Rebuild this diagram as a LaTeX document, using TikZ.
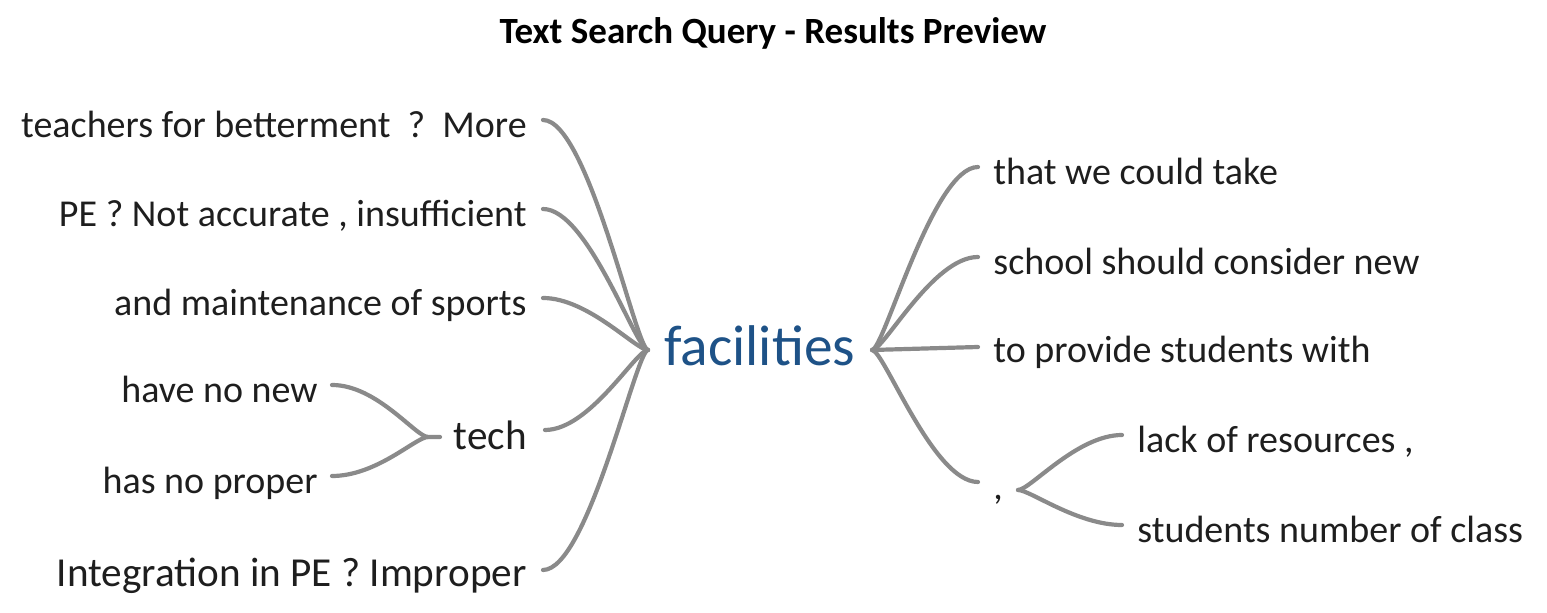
\documentclass[tikz,border=0pt]{standalone}
\usepackage{fontspec}
\setmainfont{Carlito}
\definecolor{linegray}{RGB}{138,138,138}
\definecolor{hubblue}{RGB}{30,82,135}
\definecolor{txt}{RGB}{30,30,30}
\begin{document}
\begin{tikzpicture}[x=0.5pt,y=-0.5pt,
  leaf/.style={font=\fontsize{19}{22}\selectfont, inner sep=0pt, text=txt},
  bigleaf/.style={font=\fontsize{20.6}{24}\selectfont, inner sep=0pt, text=txt},
  ttl/.style={font=\bfseries\fontsize{18.5}{22}\selectfont, inner sep=0pt, text=black},
  hub/.style={font=\fontsize{28.7}{32}\selectfont, inner sep=0pt, text=hubblue},
  conn/.style={draw=linegray, line width=2.1pt, line cap=round}]
\path[use as bounding box] (0,0) rectangle (1547,613);
\node[ttl, anchor=base] (title) at (773,44) {Text Search Query - Results Preview};
\node[hub, anchor=base west] (fac) at (664,366) {facilities};
% left leaves
\node[leaf, anchor=base east] (t1) at (527,138) {teachers for betterment\ \ ?\ \ More};
\node[leaf, anchor=base east] (t2) at (527,227) {PE ? Not accurate , insufficient};
\node[leaf, anchor=base east] (t3) at (527,316) {and maintenance of sports};
\node[bigleaf, anchor=base east] (tech) at (527,450) {tech};
\node[bigleaf, anchor=base east] (t5) at (527,587) {Integration in PE ? Improper};
\node[leaf, anchor=base east] (h1) at (318,403) {have no new};
\node[leaf, anchor=base east] (h2) at (318,494) {has no proper};
% right leaves
\node[leaf, anchor=base west] (r1) at (993,185) {that we could take};
\node[leaf, anchor=base west] (r2) at (993,275) {school should consider new};
\node[leaf, anchor=base west] (r3) at (993,363) {to provide students with};
\node[leaf, anchor=base west] (cm) at (993,500) {,};
\node[leaf, anchor=base west] (l1) at (1137,453) {lack of resources ,};
\node[leaf, anchor=base west] (l2) at (1137,543) {students number of class};
% hubs
\coordinate (hL) at (648,350);
\coordinate (hR) at (872,350);
\coordinate (hT) at (428,437);
\coordinate (hC) at (1018,490);
% connector ends
\coordinate (t1e) at (543,120);
\coordinate (t2e) at (543,209);
\coordinate (t3e) at (543,298);
\coordinate (teche) at (545,430);
\coordinate (t5e) at (543,570);
\coordinate (techw) at (440,437);
\coordinate (h1e) at (332,385);
\coordinate (h2e) at (332,476);
\coordinate (r1w) at (978,167);
\coordinate (r2w) at (978,257);
\coordinate (r3w) at (978,347);
\coordinate (cmw) at (978,482);
\coordinate (l1w) at (1122,435);
\coordinate (l2w) at (1122,525);
% left
\draw[conn] (t1e) .. controls +(45,0) and +(-12,0) .. (hL);
\draw[conn] (t2e) .. controls +(45,0) and +(-12,0) .. (hL);
\draw[conn] (t3e) .. controls +(45,0) and +(-12,0) .. (hL);
\draw[conn] (teche) .. controls +(45,0) and +(-12,0) .. (hL);
\draw[conn] (t5e) .. controls +(45,0) and +(-12,0) .. (hL);
\draw[conn] (h1e) .. controls +(45,0) and +(-12,0) .. (hT) -- (techw);
\draw[conn] (h2e) .. controls +(45,0) and +(-12,0) .. (hT);
% right
\draw[conn] (hR) .. controls +(12,0) and +(-45,0) .. (r1w);
\draw[conn] (hR) .. controls +(12,0) and +(-45,0) .. (r2w);
\draw[conn] (hR) -- (r3w);
\draw[conn] (hR) .. controls +(12,0) and +(-45,0) .. (cmw);
\draw[conn] (hC) .. controls +(12,0) and +(-45,0) .. (l1w);
\draw[conn] (hC) .. controls +(12,0) and +(-45,0) .. (l2w);
\end{tikzpicture}
\end{document}
